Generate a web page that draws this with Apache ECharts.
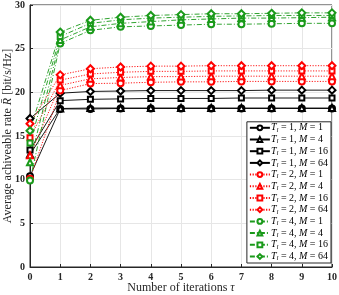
<!DOCTYPE html>
<html><head><meta charset="utf-8">
<script src="https://cdn.jsdelivr.net/npm/echarts@6/dist/echarts.min.js"></script>
<style>html,body{margin:0;padding:0;background:#fff}#c{width:339px;height:295px}</style>
</head><body><div id="c"></div>
<script>
var iterations = [0,1,2,3,4,5,6,7,8,9,10];
var yTicks = [0,5,10,15,20,25,30];

var T1M1  = [10.4, 18.1, 18.1, 18.15, 18.15, 18.15, 18.15, 18.15, 18.15, 18.15, 18.15];
var T1M4  = [12.9, 18.15, 18.2, 18.2, 18.2, 18.2, 18.2, 18.2, 18.2, 18.2, 18.2];
var T1M16 = [13.4, 19.05, 19.2, 19.25, 19.3, 19.3, 19.3, 19.35, 19.35, 19.35, 19.35];
var T1M64 = [17.0, 19.9, 20.1, 20.15, 20.2, 20.2, 20.2, 20.2, 20.25, 20.25, 20.25];

var T2M1  = [10.1, 20.2, 21.0, 21.05, 21.15, 21.2, 21.2, 21.25, 21.25, 21.25, 21.25];
var T2M4  = [12.8, 20.8, 21.55, 21.7, 21.8, 21.8, 21.85, 21.85, 21.85, 21.85, 21.85];
var T2M16 = [14.8, 21.4, 22.1, 22.3, 22.4, 22.4, 22.45, 22.45, 22.45, 22.45, 22.45];
var T2M64 = [16.4, 22.0, 22.7, 22.9, 23.0, 23.0, 23.05, 23.05, 23.05, 23.05, 23.05];

var T4M1  = [9.9, 25.6, 27.1, 27.5, 27.6, 27.7, 27.8, 27.8, 27.85, 27.9, 27.9];
var T4M4  = [12.0, 26.0, 27.5, 27.9, 28.1, 28.3, 28.4, 28.5, 28.5, 28.55, 28.6];
var T4M16 = [14.2, 26.4, 27.9, 28.3, 28.5, 28.6, 28.7, 28.75, 28.8, 28.8, 28.8];
var T4M64 = [15.6, 26.9, 28.25, 28.6, 28.8, 28.9, 29.0, 29.0, 29.05, 29.1, 29.1];

var Tvals = [1, 2, 4];
var Mvals = [1, 4, 16, 64];
var seriesData = [
  [T1M1, T1M4, T1M16, T1M64],
  [T2M1, T2M4, T2M16, T2M64],
  [T4M1, T4M4, T4M16, T4M64]
];
var colors = ['#000000', '#ff0000', '#1a9a1a'];
var lineTypes = ['solid', [1.2, 1.5], [5, 2, 1, 2]];
var symbols = ['emptyCircle', 'emptyTriangle', 'emptyRect', 'emptyDiamond'];
var symbolSizes = [6, 6, 5, 7];

var serif = '"Liberation Serif", "DejaVu Serif", serif';
var series = [];
var legendNames = [];
for (var t = 0; t < 3; t++) {
  for (var m = 0; m < 4; m++) {
    var name = 'T' + Tvals[t] + 'M' + Mvals[m];
    legendNames.push(name);
    series.push({
      name: name,
      type: 'line',
      data: iterations.map(function (x, i) { return [x, seriesData[t][m][i]]; }),
      symbol: symbols[m],
      symbolSize: symbolSizes[m],
      showAllSymbol: true,
      lineStyle: { color: colors[t], width: 0.9, type: lineTypes[t] },
      itemStyle: { color: colors[t], borderColor: colors[t], borderWidth: 0.9 },
      emphasis: { disabled: true },
      animation: false
    });
  }
}
var labelMap = {};
for (var t2 = 0; t2 < 3; t2++) for (var m2 = 0; m2 < 4; m2++) {
  labelMap['T' + Tvals[t2] + 'M' + Mvals[m2]] = '{i|T}{s|l}{n| = ' + Tvals[t2] + ', }{i|M}{n| = ' + Mvals[m2] + '}';
}

var chart = echarts.init(document.getElementById('c'), null, { renderer: 'canvas' });
chart.setOption({
  backgroundColor: '#ffffff',
  animation: false,
  grid: { left: 30, right: 7, top: 5, bottom: 28, outerBoundsMode: 'none', containLabel: false,
          show: true, borderColor: '#262626', borderWidth: 1, backgroundColor: '#fff' },
  xAxis: {
    type: 'value', min: 0, max: 10, interval: 1,
    name: '{n|Number of iterations }{i|τ}', nameLocation: 'middle', nameGap: 15, nameMoveOverlap: false,
    nameTextStyle: { verticalAlign: 'top', rich: {
      n: { fontFamily: serif, fontSize: 12, color: '#262626' },
      i: { fontFamily: serif, fontSize: 12, fontStyle: 'italic', color: '#262626' } } },
    axisLine: { show: true, lineStyle: { color: '#262626', width: 1 } },
    axisTick: { show: true, inside: true, length: 3, lineStyle: { color: '#262626' } },
    axisLabel: { fontFamily: serif, fontSize: 10, fontWeight: 'bold', color: '#262626', margin: 5 },
    splitLine: { show: true, lineStyle: { color: '#e6e6e6', width: 1 } }
  },
  yAxis: {
    type: 'value', min: 0, max: 30, interval: 5,
    name: '{n|Average achiveable rate }{i|R̄}{n| [bit/s/Hz]}', nameLocation: 'middle', nameGap: 16, nameMoveOverlap: false,
    nameTextStyle: { verticalAlign: 'bottom', rich: {
      n: { fontFamily: serif, fontSize: 12, color: '#262626' },
      i: { fontFamily: serif, fontSize: 12, fontStyle: 'italic', color: '#262626' } } },
    axisLine: { show: true, lineStyle: { color: '#262626', width: 1 } },
    axisTick: { show: true, inside: true, length: 3, lineStyle: { color: '#262626' } },
    axisLabel: { fontFamily: serif, fontSize: 10, fontWeight: 'bold', color: '#262626', margin: 5 },
    splitLine: { show: true, lineStyle: { color: '#e6e6e6', width: 1 } }
  },
  legend: {
    data: legendNames,
    orient: 'vertical',
    right: 8, bottom: 32,
    backgroundColor: '#ffffff',
    borderColor: '#262626', borderWidth: 1,
    padding: [1, 3, 1, 2],
    itemGap: 1.2,
    itemWidth: 20, itemHeight: 6,
    formatter: function (n) { return labelMap[n]; },
    textStyle: {
      padding: [0, 0, 0, -4],
      rich: {
        i: { fontFamily: serif, fontSize: 10, fontStyle: 'italic', color: '#000' },
        s: { fontFamily: serif, fontSize: 7, fontStyle: 'italic', color: '#000', verticalAlign: 'bottom', padding: [4, 0, 0, 0] },
        n: { fontFamily: serif, fontSize: 10, color: '#000' }
      }
    }
  },
  series: series
});
</script>
</body></html>
